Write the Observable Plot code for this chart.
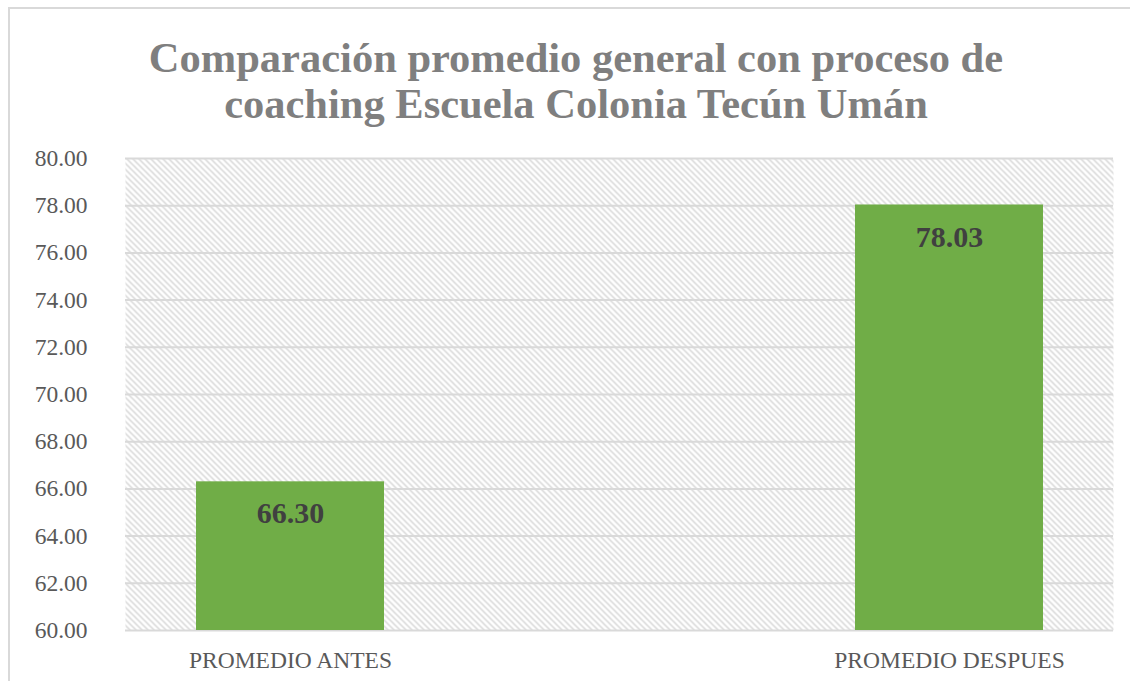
<!DOCTYPE html>
<html>
<head>
<meta charset="utf-8">
<script src="https://cdn.jsdelivr.net/npm/d3@7"></script>
<script src="https://cdn.jsdelivr.net/npm/@observablehq/plot@0.6"></script>
<style>
  html, body { margin: 0; padding: 0; background: #fff; width: 1130px; height: 681px; overflow: hidden; }
  #frame { position: absolute; left: 8px; top: 7px; width: 1140px; height: 700px; border: 2px solid #d9d9d9; box-sizing: border-box; }
  #title { position: absolute; left: 0; top: 35px; width: 1152px; text-align: center;
           font-family: "Liberation Serif", "Times New Roman", serif; font-weight: bold;
           font-size: 42.5px; line-height: 46px; color: #7f7f7f; }
  #chart { position: absolute; left: 0; top: 140px; }
</style>
</head>
<body>
<div id="frame"></div>
<div id="title">Comparación promedio general con proceso de<br>coaching Escuela Colonia Tecún Umán</div>
<div id="chart"></div>
<script>
const categories = ["PROMEDIO ANTES", "PROMEDIO DESPUES"];
const values = [66.30, 78.03];
const yDomain = [60, 80];
const yTicks = [60, 62, 64, 66, 68, 70, 72, 74, 76, 78, 80];

const data = categories.map((c, i) => ({cat: c, value: values[i]}));

const plot = Plot.plot({
  width: 1130,
  height: 541,
  marginTop: 18,
  marginBottom: 51,
  marginLeft: 125,
  marginRight: 17,
  style: {fontFamily: "'Liberation Serif', 'Times New Roman', serif", background: "transparent"},
  x: {domain: categories, paddingInner: 0.715, paddingOuter: 0.106, label: null},
  y: {domain: yDomain, ticks: yTicks, label: null},
  marks: [
    Plot.frame({fill: "url(#hatch)", stroke: "none"}),
    Plot.gridY(yTicks, {stroke: "#d9d9d9", strokeOpacity: 1, strokeWidth: 2}),
    Plot.barY(data, {x: "cat", y1: yDomain[0], y2: "value", fill: "#70ad47"}),
    Plot.text(data, {x: "cat", y: "value", text: d => d.value.toFixed(2), dy: 32,
      fontSize: 30, fontWeight: "bold", fill: "#404040"}),
    Plot.axisY(yTicks, {tickSize: 0, tickPadding: 38, tickFormat: d => d.toFixed(2),
      fontSize: 23.5, fill: "#595959", label: null}),
    Plot.axisX({tickSize: 0, tickPadding: 21, fontSize: 23.5, fill: "#595959", label: null})
  ]
});

const svg = d3.select(plot);
const defs = svg.insert("defs", ":first-child");
const pat = defs.append("pattern")
  .attr("id", "hatch")
  .attr("patternUnits", "userSpaceOnUse")
  .attr("width", 6).attr("height", 6);
pat.append("rect").attr("width", 6).attr("height", 6).attr("fill", "#ffffff");
pat.append("path")
  .attr("d", "M0,0 L6,6 M-1,5 L1,7 M5,-1 L7,1")
  .attr("stroke", "#d6d6d6").attr("stroke-width", 1.5);

document.getElementById("chart").appendChild(plot);
</script>
</body>
</html>
